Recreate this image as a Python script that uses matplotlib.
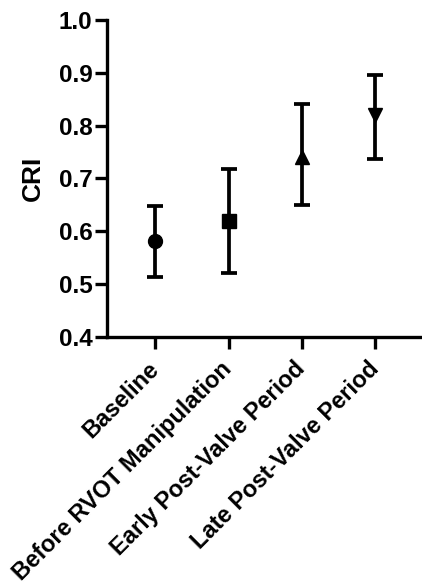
import matplotlib.pyplot as plt

plt.rcParams['font.family'] = ['Liberation Sans', 'DejaVu Sans']
plt.rcParams['font.weight'] = 'bold'

# data
groups = ["Baseline", "Before RVOT Manipulation", "Early Post-Valve Period", "Late Post-Valve Period"]
means = [0.581, 0.619, 0.741, 0.820]
upper = [0.648, 0.718, 0.841, 0.896]
lower = [0.514, 0.522, 0.650, 0.737]
markers = ["o", "s", "^", "v"]

fig = plt.figure(figsize=(4.22, 5.86), dpi=100)
ax = fig.add_axes([0.2536, 0.4249, 0.7464, 0.541])

for i, g in enumerate(groups):
    ax.errorbar(i, means[i], yerr=[[means[i] - lower[i]], [upper[i] - means[i]]],
                fmt=markers[i], color="black", ms=10, elinewidth=2.7,
                capsize=6, capthick=2.7)

ax.set_ylim(0.4, 1.0)
ax.set_xlim(-0.66, 3.64)
ax.set_yticks([0.4, 0.5, 0.6, 0.7, 0.8, 0.9, 1.0])
ax.set_yticklabels(["0.4", "0.5", "0.6", "0.7", "0.8", "0.9", "1.0"], fontsize=17.5, fontweight="bold")
ax.set_xticks(range(len(groups)))
ax.set_xticklabels(groups, rotation=45, ha="right", va="center", rotation_mode="anchor",
                   fontsize=17, fontweight="bold")
ax.set_ylabel("CRI", fontsize=19, fontweight="bold", labelpad=10)

for s in ["top", "right"]:
    ax.spines[s].set_visible(False)
for s in ["left", "bottom"]:
    ax.spines[s].set_linewidth(2.4)
ax.tick_params(axis="both", width=2.4, length=8.5, pad=2)
ax.tick_params(axis="x", pad=12)

fig.savefig("out.png", dpi=100)
